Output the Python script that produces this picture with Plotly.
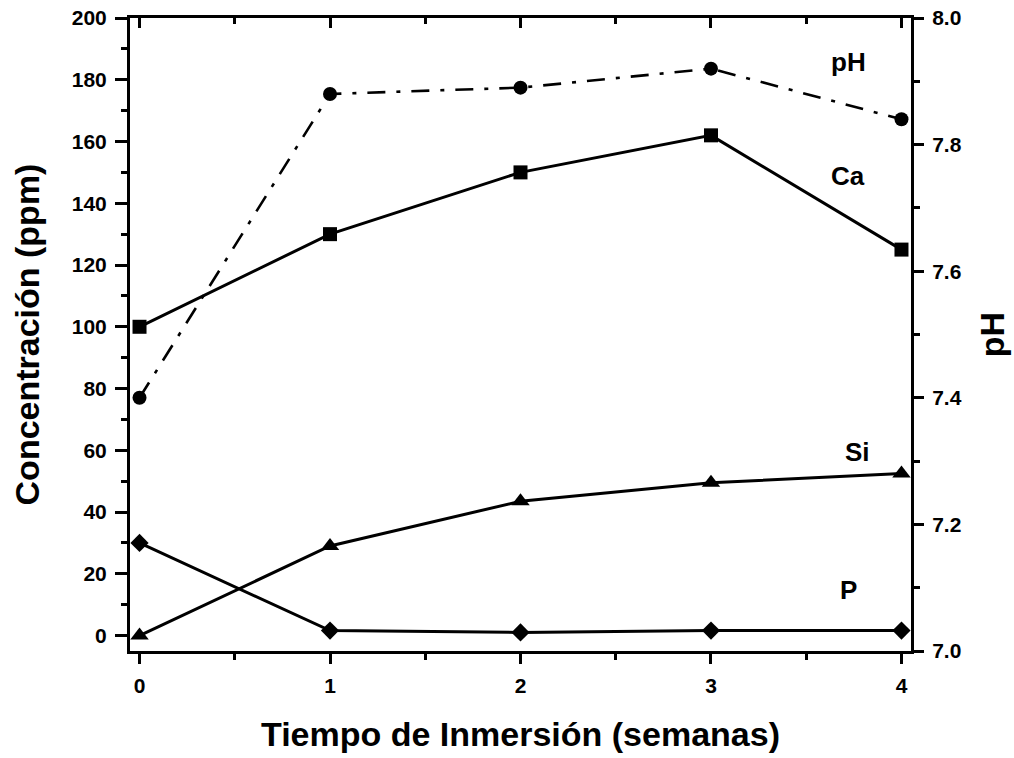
import plotly.graph_objects as go

# ---- data ----
weeks = [0, 1, 2, 3, 4]
ca_ppm = [100, 130, 150, 162, 125]
si_ppm = [0, 29, 43.5, 49.5, 52.5]
p_ppm = [30, 1.6, 1.0, 1.6, 1.6]
ph_vals = [7.40, 7.88, 7.89, 7.92, 7.84]

y_ticks = [0, 20, 40, 60, 80, 100, 120, 140, 160, 180, 200]
y2_ticks = [7.0, 7.2, 7.4, 7.6, 7.8, 8.0]
y2_labels = ["7.0", "7.2", "7.4", "7.6", "7.8", "8.0"]
x_ticks = [0, 1, 2, 3, 4]

series_labels = ["pH", "Ca", "Si", "P"]
label_x = [3.72, 3.72, 3.77, 3.72]
label_y = [185.8, 148.9, 59.5, 14.7]

FONT = "Arial, Liberation Sans, sans-serif"
BLACK = "black"
LW = 3

fig = go.Figure()

fig.add_trace(go.Scatter(
    x=weeks, y=ca_ppm, name="Ca", mode="lines+markers",
    line=dict(color=BLACK, width=LW),
    marker=dict(symbol="square", size=14, color=BLACK),
    xaxis="x", yaxis="y"))
fig.add_trace(go.Scatter(
    x=weeks, y=si_ppm, name="Si", mode="lines+markers",
    line=dict(color=BLACK, width=LW),
    marker=dict(symbol="triangle-up", size=16, color=BLACK),
    xaxis="x", yaxis="y"))
fig.add_trace(go.Scatter(
    x=weeks, y=p_ppm, name="P", mode="lines+markers",
    line=dict(color=BLACK, width=LW),
    marker=dict(symbol="diamond", size=14, color=BLACK),
    xaxis="x", yaxis="y"))
fig.add_trace(go.Scatter(
    x=weeks, y=ph_vals, name="pH", mode="lines+markers",
    line=dict(color=BLACK, width=2.6, dash="18px,11px,4px,11px"),
    marker=dict(symbol="circle", size=14, color=BLACK),
    xaxis="x2", yaxis="y2"))

for txt, lx, ly in zip(series_labels, label_x, label_y):
    fig.add_annotation(x=lx, y=ly, xref="x", yref="y", text=txt,
                       showarrow=False,
                       font=dict(family=FONT, size=26, color=BLACK, weight="bold"))

tickfont = dict(family=FONT, size=21, color=BLACK, weight="bold")
titlefont = dict(family=FONT, size=34, color=BLACK, weight="bold")

fig.update_layout(
    width=1014, height=758,
    paper_bgcolor="white", plot_bgcolor="white",
    margin=dict(l=130, r=103, t=18, b=107, autoexpand=False),
    showlegend=False,
    xaxis=dict(
        range=[-0.05, 4.05], tickvals=x_ticks,
        showline=True, linewidth=LW, linecolor=BLACK,
        ticks="outside", ticklen=10, tickwidth=2.5, tickcolor=BLACK,
        minor=dict(dtick=0.5, tick0=0, ticks="outside", ticklen=6, tickwidth=2.5, tickcolor=BLACK),
        showgrid=False, zeroline=False, tickfont=tickfont,
        ticklabelstandoff=4, automargin=False,
        title=dict(text="Tiempo de Inmersión (semanas)", font=titlefont, standoff=26),
    ),
    xaxis2=dict(
        range=[-0.05, 4.05], matches="x", overlaying="x", side="top", anchor="y2",
        tickvals=x_ticks, showticklabels=False,
        showline=True, linewidth=LW, linecolor=BLACK,
        ticks="inside", ticklen=10, tickwidth=2.5, tickcolor=BLACK,
        minor=dict(dtick=0.5, tick0=0, ticks="inside", ticklen=6, tickwidth=2.5, tickcolor=BLACK),
        showgrid=False, zeroline=False, automargin=False,
    ),
    yaxis=dict(
        range=[-5, 200], tickvals=y_ticks,
        showline=True, linewidth=LW, linecolor=BLACK,
        ticks="outside", ticklen=12, tickwidth=2.5, tickcolor=BLACK,
        minor=dict(dtick=10, tick0=0, ticks="outside", ticklen=6, tickwidth=2.5, tickcolor=BLACK),
        showgrid=False, zeroline=False, tickfont=tickfont,
        ticklabelstandoff=4, automargin=False,
        title=dict(text="Concentración (ppm)", font=titlefont, standoff=22),
    ),
    yaxis2=dict(
        range=[7.0, 8.0], overlaying="y", side="right", anchor="x2",
        tickvals=y2_ticks, ticktext=y2_labels,
        showline=True, linewidth=LW, linecolor=BLACK,
        ticks="outside", ticklen=10, tickwidth=2.5, tickcolor=BLACK,
        minor=dict(dtick=0.1, tick0=7.0, ticks="outside", ticklen=6, tickwidth=2.5, tickcolor=BLACK),
        showgrid=False, zeroline=False, tickfont=tickfont,
        ticklabelstandoff=4, automargin=False,
        title=dict(text="pH", font=titlefont, standoff=20),
    ),
)

fig.write_html("out.html", config={"displayModeBar": False},
               post_script="document.body.style.margin='0';")
